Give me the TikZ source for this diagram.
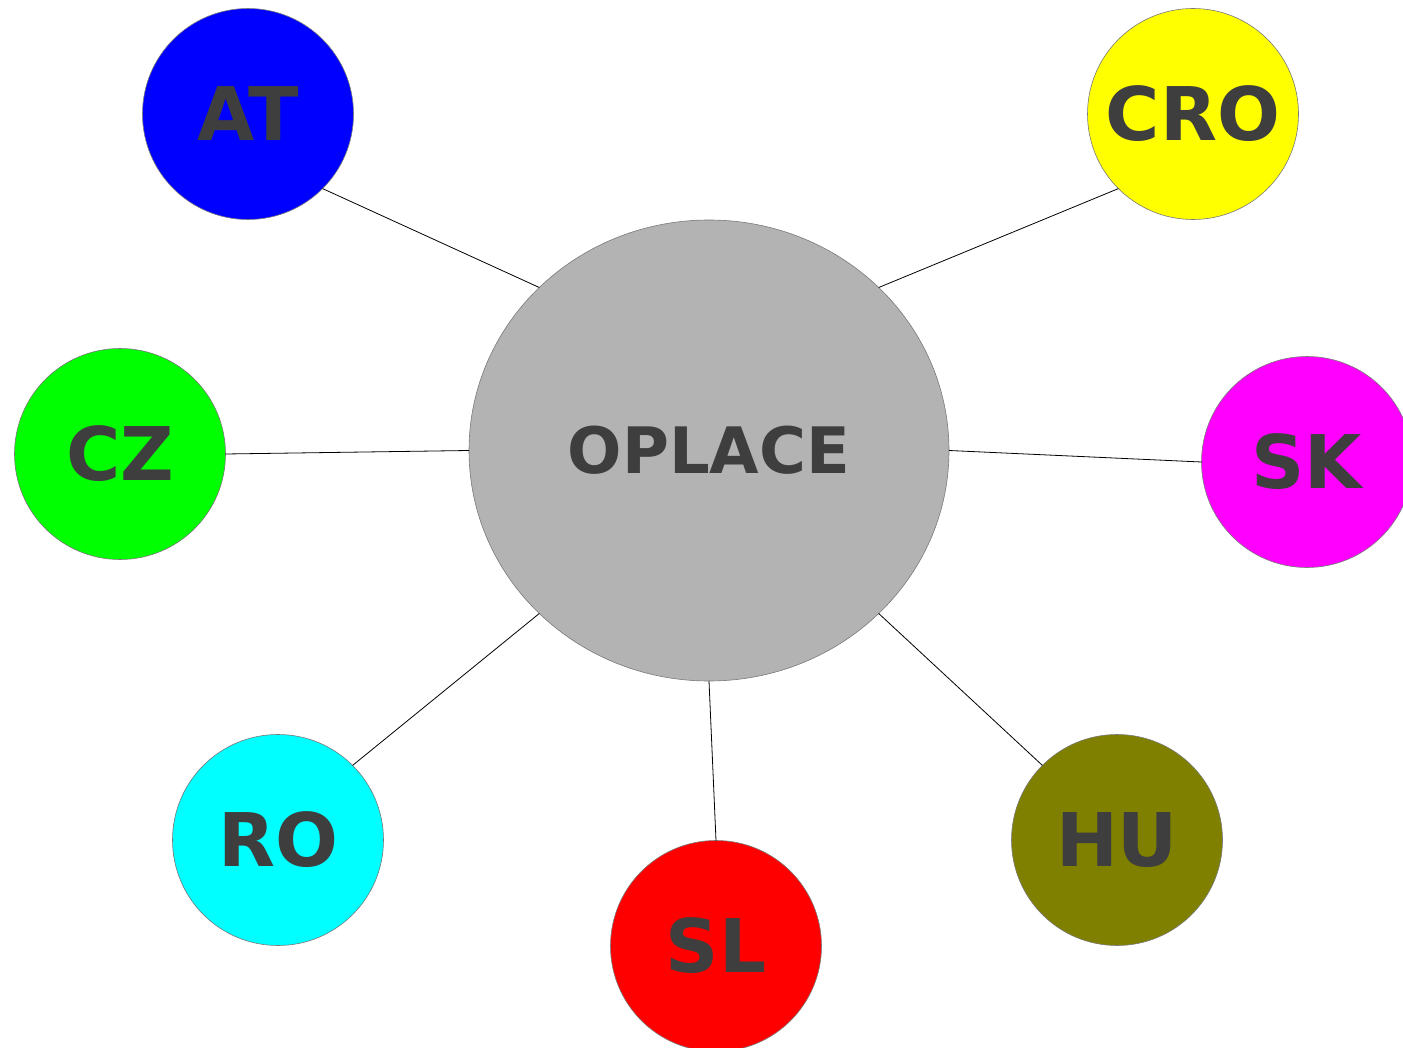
\documentclass[tikz,border=0pt]{standalone}
\usepackage{fontspec}
\setmainfont{DejaVu Sans}
\usetikzlibrary{shapes.geometric}
\definecolor{txt}{HTML}{3E3E3E}
\definecolor{edge}{HTML}{7A7A7A}
\begin{document}
\begin{tikzpicture}[x=1pt,y=-1pt,
  country/.style={circle,draw=edge,line width=0.6pt,minimum size=211pt,inner sep=0pt,outer sep=0pt,
    text=txt,font=\fontsize{74}{74}\selectfont\bfseries},
  hub/.style={ellipse,draw=edge,line width=0.6pt,fill={rgb,255:red,179;green,179;blue,179},minimum width=480pt,minimum height=461pt,
    inner sep=0pt,outer sep=0pt,text=txt,font=\fontsize{64}{64}\selectfont\bfseries},
  link/.style={draw=black,line width=0.8pt}]
\useasboundingbox (0,0) rectangle (1403,1048);
\begin{scope}
\clip (0,0) rectangle (1403,1048);
\node[hub] (op) at (709,450.5) {OPLACE};
\node[country,fill={rgb,255:red,0;green,0;blue,255}] (at) at (248,114) {AT};
\node[country,fill={rgb,255:red,255;green,255;blue,0}] (cro) at (1193,114) {CRO};
\node[country,fill={rgb,255:red,0;green,255;blue,0}] (cz) at (120,454) {CZ};
\node[country,fill={rgb,255:red,255;green,0;blue,255}] (sk) at (1307,462) {SK};
\node[country,fill={rgb,255:red,0;green,255;blue,255}] (ro) at (278,840) {RO};
\node[country,fill={rgb,255:red,255;green,0;blue,0}] (sl) at (716,946) {SL};
\node[country,fill={rgb,255:red,128;green,128;blue,0}] (hu) at (1117,840) {HU};
\end{scope}
\draw[link] (op.north west) -- (at.south east);
\draw[link] (op.north east) -- (cro.south west);
\draw[link] (op.west) -- (cz.east);
\draw[link] (op.east) -- (sk.west);
\draw[link] (op.south west) -- (ro.north east);
\draw[link] (op.south) -- (sl.north);
\draw[link] (op.south east) -- (hu.north west);
\end{tikzpicture}
\end{document}
